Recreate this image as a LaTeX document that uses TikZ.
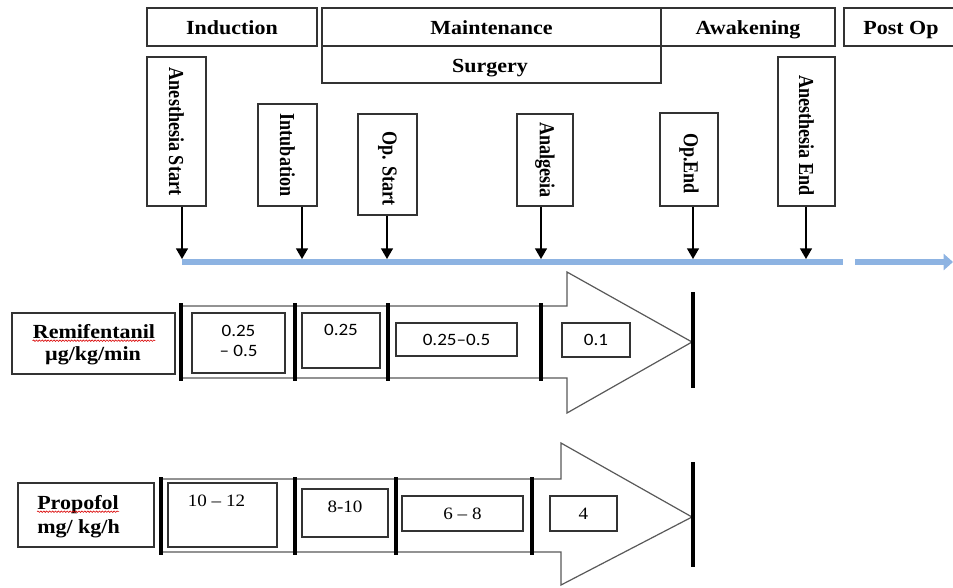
\documentclass[tikz,border=0pt]{standalone}
\usepackage{fontspec}
\setmainfont{Liberation Serif}
\newfontfamily\hdr[FakeStretch=1.1]{Liberation Serif}
\newfontfamily\vfont[FakeStretch=0.85]{Liberation Serif}
\newfontfamily\calfont[FakeStretch=1.1]{Carlito}
\usetikzlibrary{arrows.meta,fit,decorations.pathmorphing}
\definecolor{tlblue}{HTML}{8DB3E2}
\begin{document}
\begin{tikzpicture}[x=0.75pt,y=-0.75pt,
  frame/.style={draw=black!80, line width=1pt, inner sep=0pt},
  hdrtxt/.style={font=\hdr\bfseries\fontsize{15}{18}\selectfont, inner sep=0pt, anchor=base},
  vtxt/.style={rotate=-90, font=\vfont\bfseries\fontsize{16}{18}\selectfont, inner sep=0pt},
  lbltxt/.style={font=\hdr\bfseries\fontsize{15}{18}\selectfont, inner sep=0pt},
  downarr/.style={-{Triangle[length=8pt,width=9pt]}, line width=1pt},
  tline/.style={draw=tlblue, line width=3.8pt},
  bigarrow/.style={draw=black!65, line width=0.9pt, fill=white},
  bar/.style={line width=3.4pt},
  valc/.style={font=\calfont\fontsize{13}{15.5}\selectfont, inner sep=0pt},
  valt/.style={font=\hdr\fontsize{13}{15.5}\selectfont, inner sep=0pt},
  squig/.style={draw=red!85!black, line width=0.45pt, decorate, decoration={snake, amplitude=0.55pt, segment length=2.2pt}}
]
\useasboundingbox (0,0) rectangle (953,587);

% ---------- phase headers ----------
\node[frame,fit={(147,8)(317,46)}] (ind) {};
\node[hdrtxt] (ind-t) at (232,34) {Induction};
\node[frame,fit={(322,8)(661,46)}] (mnt) {};
\node[hdrtxt] (mnt-t) at (491.5,34) {Maintenance};
\node[frame,fit={(322,46)(661,83)}] (srg) {};
\node[hdrtxt] (srg-t) at (490,72) {Surgery};
\node[frame,fit={(661,8)(835,46)}] (awk) {};
\node[hdrtxt] (awk-t) at (748,34) {Awakening};
\node[frame,fit={(844,8)(958,46)}] (pop) {};
\node[hdrtxt] (pop-t) at (901,34) {Post Op};

% ---------- event boxes ----------
\node[frame,fit={(147,57)(206,206)}] (as) {};
\node[vtxt] (as-t) at (as.center) {Anesthesia Start};
\node[frame,fit={(258,104)(317,206)}] (intb) {};
\node[vtxt] (intb-t) at (intb.center) {Intubation};
\node[frame,fit={(358,114)(417,215)}] (ops) {};
\node[vtxt] (ops-t) at ([yshift=-3pt]ops.center) {Op. Start};
\node[frame,fit={(517,114)(573,206)}] (anl) {};
\node[vtxt] (anl-t) at (anl.center) {Analgesia};
\node[frame,fit={(660,113)(718,206)}] (ope) {};
\node[vtxt] (ope-t) at ([yshift=-3pt]ope.center) {Op.End};
\node[frame,fit={(778,57)(835,206)}] (ae) {};
\node[vtxt] (ae-t) at ([yshift=-3pt]ae.center) {Anesthesia End};

% ---------- timeline ----------
\coordinate (tls) at (182,262);
\coordinate (tle) at (843,262);
\coordinate (tds) at (855,262);
\coordinate (tde) at (953,262);
\draw[tline] (tls) -- (tle);
\draw[tline,-{Triangle[length=7pt,width=12pt]}] (tds) -- (tde);

\coordinate (t1) at (182,259);
\coordinate (t2) at (302,259);
\coordinate (t3) at (387,259);
\coordinate (t4) at (541,259);
\coordinate (t5) at (693,259);
\coordinate (t6) at (806,259);
\draw[downarr] (t1 |- as.south) -- (t1);
\draw[downarr] (t2 |- intb.south) -- (t2);
\draw[downarr] (t3 |- ops.south) -- (t3);
\draw[downarr] (t4 |- anl.south) -- (t4);
\draw[downarr] (t5 |- ope.south) -- (t5);
\draw[downarr] (t6 |- ae.south) -- (t6);

% ---------- Remifentanil row ----------
\node[frame,fit={(12,313)(175,374)}] (rlab) {};
\node[lbltxt,anchor=base] (rl1) at (94,338) {Remifentanil};
\node[lbltxt,anchor=base] (rl2) at (93,360) {µg/kg/min};
\draw[squig] ([yshift=-2pt]rl1.base west) -- ([yshift=-2pt]rl1.base east);

\draw[bigarrow] (181,306) -- (567,306) -- (567,272) -- (692,342) -- (567,413) -- (567,378) -- (181,378) -- cycle;
\foreach \x in {181,295,388,541} \draw[bar] (\x,303) -- (\x,381);
\draw[bar] (693,292) -- (693,388);

\node[frame,fit={(192,313)(285,373)}] (r1) {};
\node[valc,align=center] (r1-t) at (238.5,341) {0.25\\– 0.5};
\node[frame,fit={(302,313)(380,368)}] (r2) {};
\node[valc] (r2-t) at (341,330) {0.25};
\node[frame,fit={(396,323)(517,356)}] (r3) {};
\node[valc] (r3-t) at (r3.center) {0.25–0.5};
\node[frame,fit={(562,323)(630,357)}] (r4) {};
\node[valc] (r4-t) at (r4.center) {0.1};

% ---------- Propofol row ----------
\node[frame,fit={(18,483)(154,547)}] (plab) {};
\node[lbltxt,anchor=base west] (pl1) at (37,509) {Propofol};
\node[lbltxt,anchor=base west] (pl2) at (37,533) {mg/ kg/h};
\draw[squig] ([yshift=-2pt]pl1.base west) -- ([yshift=-2pt]pl1.base east);

\draw[bigarrow] (161,479) -- (561,479) -- (561,443) -- (692,517) -- (561,585) -- (561,552) -- (161,552) -- cycle;
\foreach \x in {161,295,396,532} \draw[bar] (\x,477) -- (\x,555);
\draw[bar] (693,462) -- (693,567);

\node[frame,fit={(168,483)(277,547)}] (p1) {};
\node[valt] (p1-t) at (216.5,501) {10 – 12};
\node[frame,fit={(302,489)(388,537)}] (p2) {};
\node[valt] (p2-t) at (345,507) {8-10};
\node[frame,fit={(402,496)(523,531)}] (p3) {};
\node[valt] (p3-t) at (p3.center) {6 – 8};
\node[frame,fit={(550,496)(617,531)}] (p4) {};
\node[valt] (p4-t) at (p4.center) {4};
\end{tikzpicture}
\end{document}
